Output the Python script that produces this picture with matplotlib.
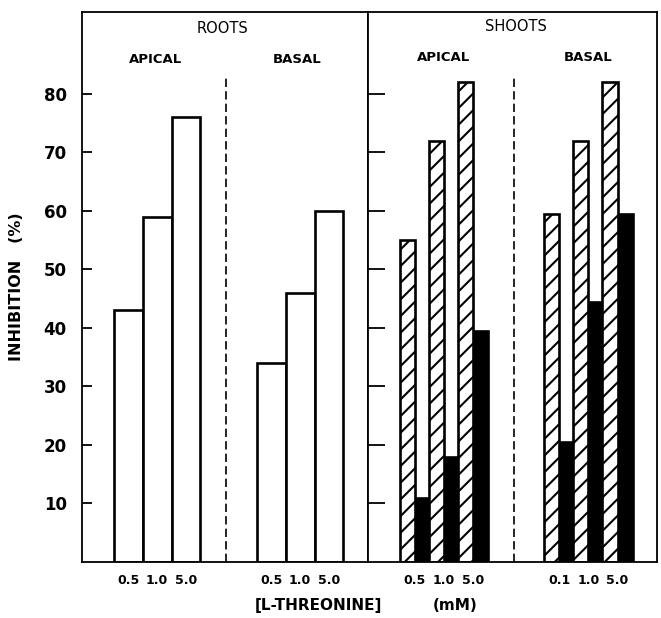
import numpy as np
import matplotlib
matplotlib.use("Agg")
import matplotlib.pyplot as plt

# ---- data ----
conc_labels_roots = ["0.5", "1.0", "5.0"]
conc_labels_shoot_apical = ["0.5", "1.0", "5.0"]
conc_labels_shoot_basal = ["0.1", "1.0", "5.0"]

roots_apical = [43, 59, 76]
roots_basal = [34, 46, 60]

shoots_apical_hatched = [55, 72, 82]
shoots_apical_black = [11, 18, 39.5]
shoots_basal_hatched = [59.5, 72, 82]
shoots_basal_black = [20.5, 44.5, 59.5]

yticks = [10, 20, 30, 40, 50, 60, 70, 80]

plt.rcParams["font.family"] = ["DejaVu Sans"]
plt.rcParams["font.weight"] = "bold"
plt.rcParams["hatch.linewidth"] = 1.5

W, H = 661, 618
fig = plt.figure(figsize=(W / 100, H / 100), dpi=100)

left_px, div_px, right_px = 82, 368, 657
top_px, bot_px = 12, 562
ax_r = fig.add_axes([left_px / W, (H - bot_px) / H, (div_px - left_px) / W, (bot_px - top_px) / H])
ax_s = fig.add_axes([div_px / W, (H - bot_px) / H, (right_px - div_px) / W, (bot_px - top_px) / H])

ymax = 94
group_starts = [1.6, 6.55]
idx = np.arange(3)
bar_lw = 1.9

for ax in (ax_r, ax_s):
    ax.set_ylim(0, ymax)
    ax.set_xlim(0, 9.9)
    for s in ax.spines.values():
        s.set_linewidth(1.3)
    ax.set_yticks(yticks)
    ax.tick_params(axis="y", direction="in", length=7, width=1.3, pad=11, labelsize=12)
    ax.tick_params(axis="x", length=0, pad=9, labelsize=9)
    ax.axvline(5.0, ymin=0, ymax=83 / ymax, color="black", lw=1.2, linestyle=(0, (5, 2.5)))

ax_s.tick_params(axis="y", labelleft=False, length=12)

# roots
for g, vals in zip(group_starts, [roots_apical, roots_basal]):
    ax_r.bar(g + idx, vals, width=1.0, facecolor="white", edgecolor="black", linewidth=bar_lw)
ax_r.set_xticks(np.concatenate([group_starts[0] + idx, group_starts[1] + idx]))
ax_r.set_xticklabels(conc_labels_roots + conc_labels_roots)

# shoots
bw = 0.52
for g, hv, bv in zip(group_starts,
                     [shoots_apical_hatched, shoots_basal_hatched],
                     [shoots_apical_black, shoots_basal_black]):
    c = g + idx
    ax_s.bar(c + bw / 2, bv, width=bw, facecolor="black", edgecolor="black", linewidth=bar_lw)
    ax_s.bar(c - bw / 2, hv, width=bw, facecolor="white", edgecolor="black",
             linewidth=bar_lw, hatch="//")
ax_s.set_xticks(np.concatenate([group_starts[0] + idx, group_starts[1] + idx]))
ax_s.set_xticklabels(conc_labels_shoot_apical + conc_labels_shoot_basal)

# panel titles
ax_r.text(4.86, 91.1, "ROOTS", ha="center", va="center", fontsize=10.5, fontweight="normal")
ax_r.text(2.55, 85.8, "APICAL", ha="center", va="center", fontsize=9.5)
ax_r.text(7.45, 85.8, "BASAL", ha="center", va="center", fontsize=9.5)
ax_s.text(5.07, 91.5, "SHOOTS", ha="center", va="center", fontsize=10.5, fontweight="normal")
ax_s.text(2.59, 86.3, "APICAL", ha="center", va="center", fontsize=9.5)
ax_s.text(7.55, 86.3, "BASAL", ha="center", va="center", fontsize=9.5)

ax_r.set_ylabel("INHIBITION   (%)", fontsize=11.5, fontweight="bold", labelpad=14)

# x label
yl = (H - 610) / H
fig.text(318 / W, yl, "[L-THREONINE]", ha="center", va="baseline", fontsize=11, fontweight="bold")
fig.text(455 / W, yl, "(mM)", ha="center", va="baseline", fontsize=11, fontweight="bold")

fig.savefig("out.png", dpi=100)
